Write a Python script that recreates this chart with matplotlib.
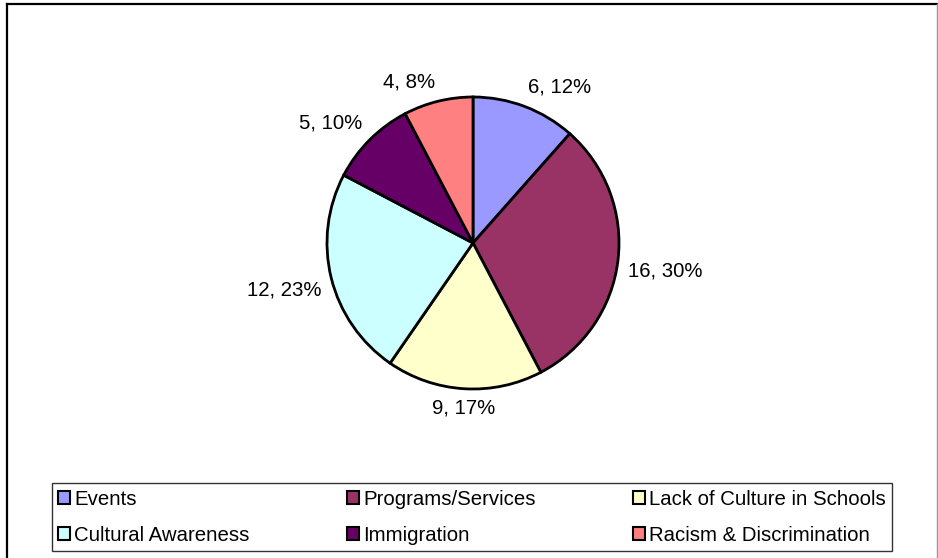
import numpy as np
import matplotlib
matplotlib.use("Agg")
import matplotlib.pyplot as plt
from matplotlib.lines import Line2D
from matplotlib.patches import Patch

plt.rcParams['font.family'] = ['Liberation Sans', 'DejaVu Sans']

categories = ["Events", "Programs/Services", "Lack of Culture in Schools",
              "Cultural Awareness", "Immigration", "Racism & Discrimination"]
values = [6, 16, 9, 12, 5, 4]
percent_labels = [12, 30, 17, 23, 10, 8]
colors = ["#9999FF", "#993366", "#FFFFCC", "#CCFFFF", "#660066", "#FF8080"]

W, H = 938, 558
fig = plt.figure(figsize=(W / 100, H / 100), dpi=100)

# pie axes
cx, cy, r = 473, 243, 146
ax = fig.add_axes([(cx - r) / W, (H - cy - r) / H, 2 * r / W, 2 * r / H])
wedges, _ = ax.pie(values, colors=colors, startangle=90, counterclock=False,
                   radius=1.0, wedgeprops=dict(edgecolor="black", linewidth=2))
ax.set_xlim(-1, 1)
ax.set_ylim(-1, 1)
ax.set_aspect("auto")
ax.axis("off")

for w, v, p in zip(wedges, values, percent_labels):
    ang = np.deg2rad((w.theta1 + w.theta2) / 2)
    c, s = np.cos(ang), np.sin(ang)
    ha = "left" if c > 0.1 else ("right" if c < -0.1 else "center")
    va = "bottom" if s > 0.1 else ("top" if s < -0.1 else "center")
    d = 1.07
    ax.text(d * c, d * s, f"{v}, {p}%", ha=ha, va=va, fontsize=14.7,
            color="black", clip_on=False)

# legend (row-wise order: matplotlib fills column by column)
handles = [Patch(facecolor=col, edgecolor="black", linewidth=1.5) for col in colors]
order = [0, 3, 1, 4, 2, 5]
lx0, lx1, ly0, ly1 = 52, 892, 483, 551
leg = fig.legend([handles[i] for i in order], [categories[i] for i in order],
                 ncol=3, loc="lower left",
                 bbox_to_anchor=(lx0 / W, (H - ly1) / H, (lx1 - lx0) / W, (ly1 - ly0) / H),
                 mode="expand", fontsize=14.7, frameon=True, fancybox=False,
                 edgecolor="black", handlelength=0.6, handleheight=0.6,
                 handletextpad=0.2, borderaxespad=0, borderpad=0.3,
                 labelspacing=0.85, columnspacing=1.0)
leg.get_frame().set_linewidth(1.0)

# outer chart frame
fig.add_artist(Line2D([7 / W, 7 / W], [0, 1 - 4 / H], color="black", linewidth=1.6,
                      transform=fig.transFigure))
fig.add_artist(Line2D([7 / W, 937 / W], [1 - 4 / H, 1 - 4 / H], color="black",
                      linewidth=1.6, transform=fig.transFigure))
fig.add_artist(Line2D([936.5 / W, 936.5 / W], [0, 1 - 4 / H], color="#999999",
                      linewidth=1.0, transform=fig.transFigure))

fig.savefig("out.png", dpi=100, facecolor="white")
